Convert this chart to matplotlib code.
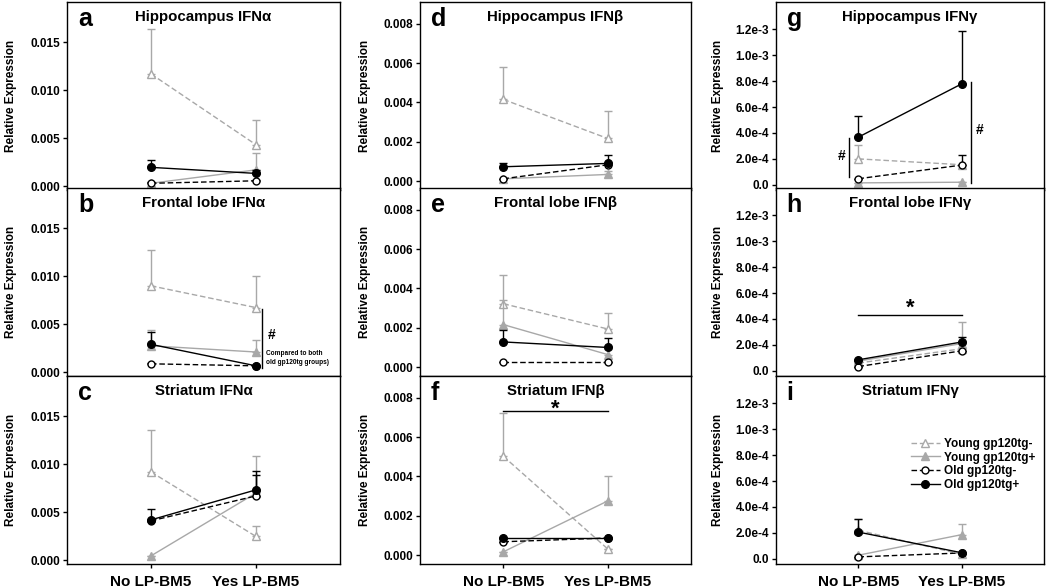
import matplotlib
matplotlib.use("Agg")
import matplotlib.pyplot as plt
from matplotlib.ticker import FixedLocator, FixedFormatter

plt.rcParams['font.family'] = ['Liberation Sans', 'DejaVu Sans']
plt.rcParams['font.weight'] = 'bold'

# ---------------- data ----------------
categories = ["No LP-BM5", "Yes LP-BM5"]
groups = ["Young gp120tg-", "Young gp120tg+", "Old gp120tg-", "Old gp120tg+"]

panel_letters = ["a", "b", "c", "d", "e", "f", "g", "h", "i"]
panel_titles = ["Hippocampus IFN\u03b1", "Frontal lobe IFN\u03b1", "Striatum IFN\u03b1",
                "Hippocampus IFN\u03b2", "Frontal lobe IFN\u03b2", "Striatum IFN\u03b2",
                "Hippocampus IFN\u03b3", "Frontal lobe IFN\u03b3", "Striatum IFN\u03b3"]

# means per panel: [young-, young+, old-, old+], each [No, Yes]
a_mean = [[0.0117, 0.00432], [0.0003, 0.0017], [0.0003, 0.00056], [0.00196, 0.00133]]
a_err = [[0.00465, 0.00258], [0.0, 0.0018], [0.0001, 0.0001], [0.00078, 0.00035]]
b_mean = [[0.0090, 0.00673], [0.00275, 0.0021], [0.00087, 0.00066], [0.0029, 0.00066]]
b_err = [[0.00373, 0.00325], [0.00168, 0.0013], [0.0001, 0.0], [0.0013, 0.0]]
c_mean = [[0.0092, 0.00247], [0.00045, 0.0070], [0.0041, 0.0067], [0.0042, 0.00733]]
c_err = [[0.0044, 0.00113], [0.0, 0.0039], [0.0, 0.0022], [0.0011, 0.002]]
d_mean = [[0.00415, 0.00217], [0.00012, 0.00034], [0.00012, 0.00083], [0.00073, 0.0009]]
d_err = [[0.00163, 0.00137], [0.0, 0.00016], [0.0, 0.0001], [0.00017, 0.00043]]
e_mean = [[0.00322, 0.00194], [0.00216, 0.00064], [0.00026, 0.00026], [0.00128, 0.0010]]
e_err = [[0.00144, 0.00083], [0.00124, 0.00026], [0.0, 0.0], [0.00059, 0.00048]]
f_mean = [[0.00502, 0.00032], [0.00017, 0.00275], [0.00068, 0.00087], [0.00088, 0.00088]]
f_err = [[0.00218, 0.0], [0.0, 0.00125], [0.0, 0.0], [0.0, 0.0]]
g_mean = [[2.0e-4, 1.55e-4], [1.5e-5, 2.0e-5], [4.7e-5, 1.52e-4], [3.68e-4, 7.78e-4]]
g_err = [[1.1e-4, 0.0], [0.0, 0.0], [0.0, 7.6e-5], [1.62e-4, 4.12e-4]]
h_mean = [[6.0e-5, 1.7e-4], [7.5e-5, 2.1e-4], [3.3e-5, 1.54e-4], [8.5e-5, 2.22e-4]]
h_err = [[0.0, 0.0], [0.0, 1.66e-4], [0.0, 0.0], [0.0, 3.8e-5]]
i_mean = [[2.2e-4, 3.5e-5], [2.8e-5, 1.86e-4], [1.5e-5, 4.5e-5], [2.06e-4, 4.7e-5]]
i_err = [[9.0e-5, 0.0], [0.0, 8.4e-5], [0.0, 0.0], [1.04e-4, 0.0]]

means = [a_mean, b_mean, c_mean, d_mean, e_mean, f_mean, g_mean, h_mean, i_mean]
errs = [a_err, b_err, c_err, d_err, e_err, f_err, g_err, h_err, i_err]

col_ylims = [(-0.0004, 0.0192), (-0.00045, 0.0091), (-0.00004, 0.00141)]
col_ticks = [[0.0, 0.005, 0.010, 0.015],
             [0.0, 0.002, 0.004, 0.006, 0.008],
             [0.0, 2e-4, 4e-4, 6e-4, 8e-4, 1e-3, 1.2e-3]]
col_ticklabels = [["0.000", "0.005", "0.010", "0.015"],
                  ["0.000", "0.002", "0.004", "0.006", "0.008"],
                  ["0.0", "2.0e-4", "4.0e-4", "6.0e-4", "8.0e-4", "1.0e-3", "1.2e-3"]]

# ---------------- style ----------------
GRAY = "#a8a8a8"
styles = [
    dict(color=GRAY, ls=(0, (4, 2)), marker="^", mfc="white", mec=GRAY, lw=1.0, ms=5.5),
    dict(color=GRAY, ls="-", marker="^", mfc=GRAY, mec=GRAY, lw=1.0, ms=5.5),
    dict(color="black", ls=(0, (4, 2)), marker="o", mfc="white", mec="black", lw=1.0, ms=5),
    dict(color="black", ls="-", marker="o", mfc="black", mec="black", lw=1.0, ms=5.5),
]

fig = plt.figure(figsize=(10.5, 5.88), dpi=100)
W, H = 1050.0, 588.0
col_left = [67, 420, 776]
col_width = [273, 271, 268]
col_labelpad = [9.5, 9.0, 8.5]
row_top = [2, 188, 376]
row_h = 188

x = [0, 1]
axes = []
for c in range(3):
    for r in range(3):
        k = c * 3 + r
        l = col_left[c] / W
        b = 1 - (row_top[r] + row_h) / H
        ax = fig.add_axes([l, b, col_width[c] / W, row_h / H])
        axes.append(ax)
        for gi in range(4):
            st = styles[gi]
            m = means[k][gi]
            e = errs[k][gi]
            ax.errorbar(x, m, yerr=[[0, 0], e], fmt='none', ecolor=st['color'],
                        elinewidth=1.0, capsize=3, capthick=1.0, zorder=2 + gi)
            ax.plot(x, m, color=st['color'], ls=st['ls'], lw=st['lw'],
                    marker=st['marker'], mfc=st['mfc'], mec=st['mec'], mew=1.0,
                    ms=st['ms'], zorder=3 + gi, label=groups[gi])
        ax.set_xlim(-0.8, 1.8)
        ax.set_ylim(*col_ylims[c])
        ax.yaxis.set_major_locator(FixedLocator(col_ticks[c]))
        ax.yaxis.set_major_formatter(FixedFormatter(col_ticklabels[c]))
        ax.set_xticks(x)
        if r == 2:
            ax.set_xticklabels(categories, fontweight='bold')
        else:
            ax.set_xticklabels(["", ""])
        ax.tick_params(axis='both', direction='out', length=3, width=1, pad=2)
        ax.tick_params(axis='y', labelsize=8.5)
        ax.tick_params(axis='x', pad=5, labelsize=11)
        for lab in ax.get_yticklabels():
            lab.set_fontweight('bold')
        for sp in ax.spines.values():
            sp.set_linewidth(1.0)
        ax.set_ylabel("Relative Expression", fontsize=8.5, fontweight='bold',
                      labelpad=col_labelpad[c])
        ax.text(0.04, 0.975, panel_letters[k], transform=ax.transAxes, fontsize=18,
                fontweight='bold', va='top', ha='left')
        ax.text(0.5, 0.96, panel_titles[k], transform=ax.transAxes, fontsize=10.8,
                fontweight='bold', va='top', ha='center')

# ---------------- annotations ----------------
ax_b = axes[1]
ax_b.plot([1.06, 1.06], [0.00043, 0.0066], color='black', lw=1.0)
ax_b.text(1.11, 0.0039, "#", fontsize=10, fontweight='bold', va='center', ha='left')
ax_b.text(1.10, 0.0015, "Compared to both\nold gp120tg groups)", fontsize=4.7,
          fontweight='bold', va='center', ha='left', linespacing=1.3)

ax_f = axes[5]
ax_f.plot([0, 1], [0.0073, 0.0073], color='black', lw=1.0)
ax_f.text(0.5, 0.0069, "*", fontsize=16, fontweight='bold', va='bottom', ha='center')

ax_g = axes[6]
ax_g.plot([-0.09, -0.09], [5.7e-5, 3.63e-4], color='black', lw=1.0)
ax_g.text(-0.13, 2.2e-4, "#", fontsize=10, fontweight='bold', va='center', ha='right')
ax_g.plot([1.09, 1.09], [1.3e-5, 7.9e-4], color='black', lw=1.0)
ax_g.text(1.14, 4.2e-4, "#", fontsize=10, fontweight='bold', va='center', ha='left')

ax_h = axes[7]
ax_h.plot([0, 1], [4.27e-4, 4.27e-4], color='black', lw=1.0)
ax_h.text(0.5, 4.0e-4, "*", fontsize=16, fontweight='bold', va='bottom', ha='center')

ax_i = axes[8]
ax_i.legend(loc='upper right', bbox_to_anchor=(1.0, 0.715), frameon=False,
            prop={'size': 8.5, 'weight': 'bold'}, handlelength=2.4, handletextpad=0.4,
            labelspacing=0.15, borderaxespad=0.3)

fig.savefig("out.png", dpi=100)
